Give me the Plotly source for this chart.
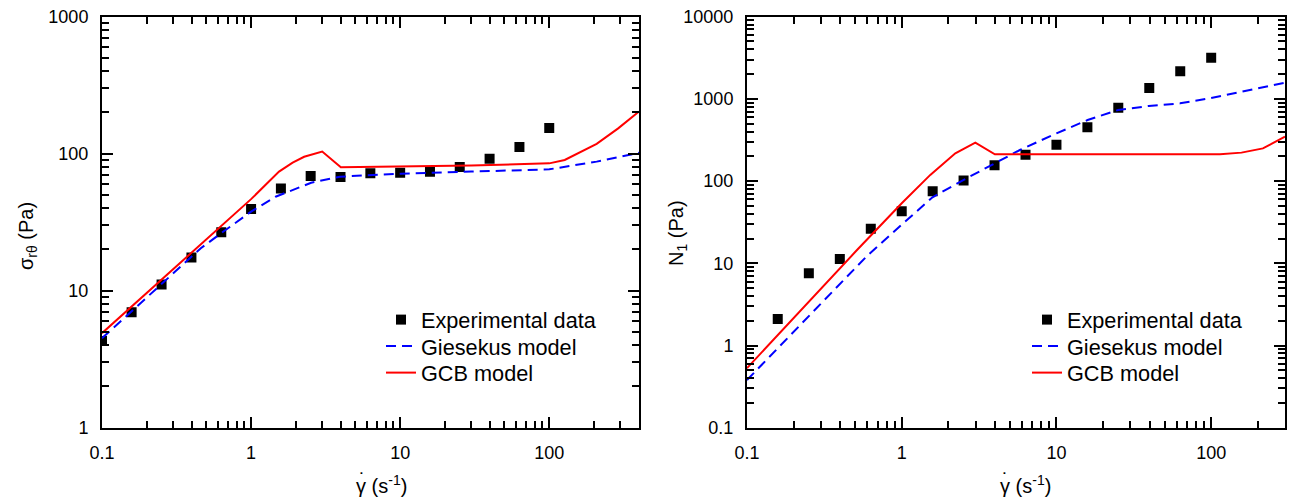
import math
import plotly.graph_objects as go

# ---------------- data ----------------
# Left panel: shear stress sigma_r-theta vs shear rate
EXP_RATE_L = [0.1, 0.158, 0.251, 0.398, 0.631, 1.0, 1.585, 2.51, 3.98, 6.31, 10.0, 15.85, 25.1, 39.8, 63.1, 100.0]
EXP_SIG_L = [4.3, 6.95, 11.1, 17.5, 26.7, 39.5, 55.6, 68.8, 67.6, 71.9, 72.6, 73.9, 80.0, 92.0, 112.0, 154.0]

GIE_RATE_L = [0.1, 0.46, 0.63, 1.0, 1.46, 2.15, 2.53, 3.94, 10.0, 30.0, 100.0, 208.0, 300.0, 400.0]
GIE_SIG_L = [4.5, 20.4, 26.3, 37.8, 48.5, 57.4, 61.4, 67.9, 71.5, 74.0, 76.9, 87.5, 95.0, 101.6]

GCB_RATE_L = [0.1, 1.0, 1.54, 1.9, 2.27, 2.6, 3.0, 4.0, 10.0, 30.0, 100.0, 127.0, 208.0, 290.0, 400.0]
GCB_SIG_L = [4.9, 46.6, 74.0, 86.0, 95.0, 99.5, 103.6, 79.6, 80.4, 81.9, 85.0, 90.0, 118.0, 153.0, 203.0]

# Right panel: first normal stress difference N1 vs shear rate
EXP_RATE_R = [0.158, 0.251, 0.398, 0.631, 1.0, 1.585, 2.51, 3.98, 6.31, 10.0, 15.85, 25.1, 39.8, 63.1, 100.0]
EXP_N1_R = [2.1, 7.56, 11.3, 26.4, 42.9, 75.0, 102.0, 156.0, 209.0, 277.0, 451.0, 782.0, 1358.0, 2167.0, 3170.0]

GIE_RATE_R = [0.1, 0.597, 1.0, 1.58, 2.5, 3.95, 5.8, 10.0, 15.9, 25.0, 39.5, 63.0, 100.0, 300.0]
GIE_N1_R = [0.38, 12.3, 29.5, 63.5, 103.0, 164.0, 239.0, 381.0, 553.0, 733.0, 820.0, 883.0, 1026.0, 1574.0]

GCB_RATE_R = [0.1, 0.514, 1.0, 1.53, 2.22, 2.99, 4.0, 10.0, 30.0, 114.0, 157.0, 216.0, 300.0]
GCB_N1_R = [0.53, 14.5, 53.7, 119.0, 218.0, 293.0, 212.0, 211.0, 211.0, 212.0, 222.0, 250.0, 347.0]

# tick labels
X_TICKS = [0.1, 1, 10, 100]
X_TICK_TEXT = ["0.1", "1", "10", "100"]
YL_TICKS = [1, 10, 100, 1000]
YL_TICK_TEXT = ["1", "10", "100", "1000"]
YR_TICKS = [0.1, 1, 10, 100, 1000, 10000]
YR_TICK_TEXT = ["0.1", "1", "10", "100", "1000", "10000"]

LEGEND_NAMES = ["Experimental data", "Giesekus model", "GCB model"]


def minor_vals(lo_exp, hi_exp):
    out = []
    for e in range(lo_exp, hi_exp):
        for m in range(2, 10):
            out.append(m * 10.0 ** e)
    return out


FONT = "Arial, Liberation Sans, sans-serif"
W, H = 1291, 504

fig = go.Figure()

panels = [
    ("x", "y", EXP_RATE_L, EXP_SIG_L, GIE_RATE_L, GIE_SIG_L, GCB_RATE_L, GCB_SIG_L, 0),
    ("x2", "y2", EXP_RATE_R, EXP_N1_R, GIE_RATE_R, GIE_N1_R, GCB_RATE_R, GCB_N1_R, 3),
]
for xa, ya, ex, ey, gx, gy, cx_, cy_, off in panels:
    fig.add_trace(go.Scatter(x=ex, y=ey, mode="markers", name=LEGEND_NAMES[0],
                             marker=dict(symbol="square", size=10, color="black"),
                             xaxis=xa, yaxis=ya,
                             legend="legend" if off == 0 else "legend%d" % (off + 1)))
    fig.add_trace(go.Scatter(x=gx, y=gy, mode="lines", name=LEGEND_NAMES[1],
                             line=dict(color="#0000ff", width=2, dash="10px,6px"),
                             xaxis=xa, yaxis=ya, legend="legend%d" % (off + 2)))
    fig.add_trace(go.Scatter(x=cx_, y=cy_, mode="lines", name=LEGEND_NAMES[2],
                             line=dict(color="#ff0000", width=2),
                             xaxis=xa, yaxis=ya, legend="legend%d" % (off + 3)))

ydom = [1 - 427.7 / H, 1 - 16.7 / H]
xdomL = [102 / W, 639 / W]
xdomR = [747 / W, 1285 / W]


def axis_common(tickvals, ticktext, minors, rng, domain, anchor):
    return dict(
        type="log", range=rng, domain=domain, anchor=anchor, automargin=False,
        tickmode="array", tickvals=tickvals, ticktext=ticktext,
        ticks="inside", ticklen=11, tickwidth=2, tickcolor="black",
        showline=True, linewidth=2, linecolor="black", mirror="allticks",
        showgrid=False, zeroline=False,
        tickfont=dict(family=FONT, size=18, color="black"),
        ticklabelstandoff=8,
        minor=dict(tickmode="array", tickvals=minors, ticks="inside", ticklen=7,
                   tickwidth=2, tickcolor="black", showgrid=False),
    )


def legend_at(text_x, row_y):
    return dict(x=(text_x - 40) / W, y=1 - row_y / H, xanchor="left", yanchor="middle",
                bgcolor="rgba(0,0,0,0)", font=dict(family=FONT, size=21.7, color="black"))


rows = [320, 346.5, 373]
legends = {}
for i, ry in enumerate(rows):
    legends["legend" if i == 0 else "legend%d" % (i + 1)] = legend_at(421, ry)
    legends["legend%d" % (i + 4)] = legend_at(1067, ry)

fig.update_layout(
    width=W, height=H,
    margin=dict(l=0, r=0, t=0, b=0, autoexpand=False),
    paper_bgcolor="white", plot_bgcolor="white",
    font=dict(family=FONT, color="black"),
    xaxis=axis_common(X_TICKS, X_TICK_TEXT, minor_vals(-1, 3), [-1, math.log10(400)], xdomL, "y"),
    yaxis=axis_common(YL_TICKS, YL_TICK_TEXT, minor_vals(0, 3), [0, 3], ydom, "x"),
    xaxis2=axis_common(X_TICKS, X_TICK_TEXT, minor_vals(-1, 3), [-1, math.log10(300)], xdomR, "y2"),
    yaxis2=axis_common(YR_TICKS, YR_TICK_TEXT, minor_vals(-1, 4), [-1, 4], ydom, "x2"),
    showlegend=True,
    **legends,
)

title_font = dict(family=FONT, size=20, color="black")
fig.add_annotation(text="σ<sub>rθ</sub> (Pa)", textangle=-90, x=27 / W, y=1 - 236 / H,
                   xanchor="center", yanchor="middle",
                   xref="paper", yref="paper", showarrow=False, font=title_font)
fig.add_annotation(text="N<sub>1</sub> (Pa)", textangle=-90, x=677 / W, y=1 - 233 / H,
                   xanchor="center", yanchor="middle",
                   xref="paper", yref="paper", showarrow=False, font=title_font)
for cx in (381, 1025):
    fig.add_annotation(text="γ (s<sup>-1</sup>)", x=cx / W, y=1 - 484 / H,
                       xanchor="center", yanchor="middle",
                       xref="paper", yref="paper", showarrow=False, font=title_font)
    fig.add_annotation(text="˙", x=(cx - 19) / W, y=1 - 480 / H,
                       xanchor="center", yanchor="middle",
                       xref="paper", yref="paper", showarrow=False, font=title_font)

fig.write_html("out.html")
